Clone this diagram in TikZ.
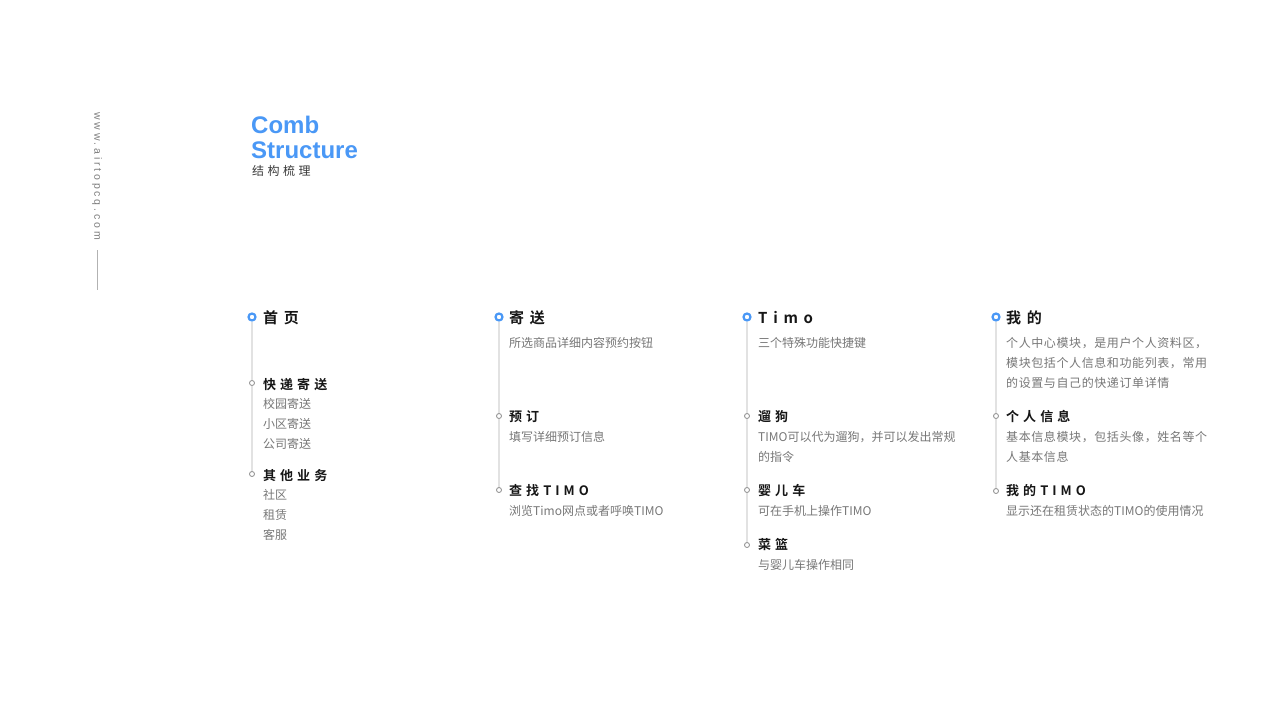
\documentclass[tikz,border=0pt]{standalone}
\usepackage{fontspec}
\setmainfont{Liberation Sans}
\newfontfamily\cjk{Noto Sans CJK SC}
\newfontfamily\cjkheadfont[LetterSpace=38]{Noto Sans CJK SC Bold}
\newfontfamily\cjksubfont[LetterSpace=31]{Noto Sans CJK SC Bold}
\newfontfamily\cjktitlefont[LetterSpace=29]{Noto Sans CJK SC}
\newfontfamily\cjkwidefont[LetterSpace=5]{Noto Sans CJK SC}
\newfontfamily\urlfont[LetterSpace=27]{Liberation Sans}
\definecolor{accent}{HTML}{4A98F6}
\definecolor{headtext}{HTML}{161616}
\definecolor{desctext}{HTML}{777777}
\definecolor{railgray}{HTML}{E2E2E2}
\definecolor{dotgray}{HTML}{8A8A8A}
\definecolor{urlgray}{HTML}{7E7E7E}
\tikzset{
  bigdot/.style={circle, draw=accent, line width=2.2pt, inner sep=0pt, minimum size=7pt, fill=white},
  smalldot/.style={circle, draw=dotgray, line width=0.8pt, inner sep=0pt, minimum size=5pt, fill=white},
  rail/.style={draw=railgray, line width=1.3pt},
  headtxt/.style={anchor=west, inner sep=0pt, yshift=-1pt, text=headtext, font=\cjkheadfont\fontsize{15}{18}\selectfont},
  subtxt/.style={anchor=west, inner sep=0pt, yshift=-1pt, text=headtext, font=\cjksubfont\fontsize{13}{16}\selectfont},
  desctxt/.style={anchor=west, inner sep=0pt, yshift=-1pt, text=desctext, font=\cjk\fontsize{12}{15}\selectfont},
  widetxt/.style={anchor=west, inner sep=0pt, yshift=-1pt, text=desctext, font=\cjkwidefont\fontsize{12}{15}\selectfont}
}
\begin{document}
\begin{tikzpicture}[x=1pt,y=-1pt]
\useasboundingbox[fill=white] (0,0) rectangle (1280,720);

% side url
\node[rotate=-90, anchor=west, inner sep=0pt, text=urlgray, font=\urlfont\fontsize{10.5}{12}\selectfont] (url) at (97,112) {www.airtopcq.com};
\coordinate (ulA) at (97,250);
\coordinate (ulB) at (97,290);
\draw[draw=urlgray!60, line width=0.8pt] (ulA) -- (ulB);

% title
\node[anchor=base west, inner sep=0pt, text=accent, font=\bfseries\fontsize{24}{28}\selectfont] (t1) at (251,133) {Comb};
\node[anchor=base west, inner sep=0pt, text=accent, font=\bfseries\fontsize{24}{28}\selectfont] (t2) at (251,158) {Structure};
\node[anchor=west, inner sep=0pt, text=headtext!85, font=\cjktitlefont\fontsize{12}{15}\selectfont] (t3) at (252,171) {结构梳理};

% ---------- column 1
\node[bigdot] (m1) at (252,317) {};
\node[smalldot] (s11) at (252,383) {};
\node[smalldot] (s12) at (252,474) {};
\draw[rail] (m1) -- (s11);
\draw[rail] (s11) -- (s12);
\node[headtxt] (h1) at (263,317) {首页};
\node[subtxt] (h11) at (263,384) {快递寄送};
\node[desctxt] (d111) at (263,403) {校园寄送};
\node[desctxt] (d112) at (263,423) {小区寄送};
\node[desctxt] (d113) at (263,443) {公司寄送};
\node[subtxt] (h12) at (263,475) {其他业务};
\node[desctxt] (d121) at (263,494) {社区};
\node[desctxt] (d122) at (263,514) {租赁};
\node[desctxt] (d123) at (263,534) {客服};

% ---------- column 2
\node[bigdot] (m2) at (499,317) {};
\node[smalldot] (s21) at (499,416) {};
\node[smalldot] (s22) at (499,490) {};
\draw[rail] (m2) -- (s21);
\draw[rail] (s21) -- (s22);
\node[headtxt] (h2) at (509,317) {寄送};
\node[desctxt] (d2) at (509,342) {所选商品详细内容预约按钮};
\node[subtxt] (h21) at (509,416) {预订};
\node[desctxt] (d21) at (509,436) {填写详细预订信息};
\node[subtxt] (h22) at (509,490) {查找TIMO};
\node[desctxt] (d22) at (509,510) {浏览Timo网点或者呼唤TIMO};

% ---------- column 3
\node[bigdot] (m3) at (747,317) {};
\node[smalldot] (s31) at (747,416) {};
\node[smalldot] (s32) at (747,490) {};
\node[smalldot] (s33) at (747,545) {};
\draw[rail] (m3) -- (s31);
\draw[rail] (s31) -- (s32);
\draw[rail] (s32) -- (s33);
\node[headtxt] (h3) at (758,317) {Timo};
\node[desctxt] (d3) at (758,342) {三个特殊功能快捷键};
\node[subtxt] (h31) at (758,416) {遛狗};
\node[desctxt] (d31a) at (758,436) {TIMO可以代为遛狗，并可以发出常规};
\node[desctxt] (d31b) at (758,456) {的指令};
\node[subtxt] (h32) at (758,490) {婴儿车};
\node[desctxt] (d32) at (758,510) {可在手机上操作TIMO};
\node[subtxt] (h33) at (758,544) {菜篮};
\node[desctxt] (d33) at (758,564) {与婴儿车操作相同};

% ---------- column 4
\node[bigdot] (m4) at (996,317) {};
\node[smalldot] (s41) at (996,416) {};
\node[smalldot] (s42) at (996,491) {};
\draw[rail] (m4) -- (s41);
\draw[rail] (s41) -- (s42);
\node[headtxt] (h4) at (1006,317) {我的};
\node[widetxt] (d4a) at (1006,342) {个人中心模块，是用户个人资料区，};
\node[widetxt] (d4b) at (1006,362) {模块包括个人信息和功能列表，常用};
\node[widetxt] (d4c) at (1006,382) {的设置与自己的快递订单详情};
\node[subtxt] (h41) at (1006,416) {个人信息};
\node[widetxt] (d41a) at (1006,436) {基本信息模块，包括头像，姓名等个};
\node[widetxt] (d41b) at (1006,456) {人基本信息};
\node[subtxt] (h42) at (1006,490) {我的TIMO};
\node[desctxt] (d42) at (1006,510) {显示还在租赁状态的TIMO的使用情况};
\end{tikzpicture}
\end{document}
